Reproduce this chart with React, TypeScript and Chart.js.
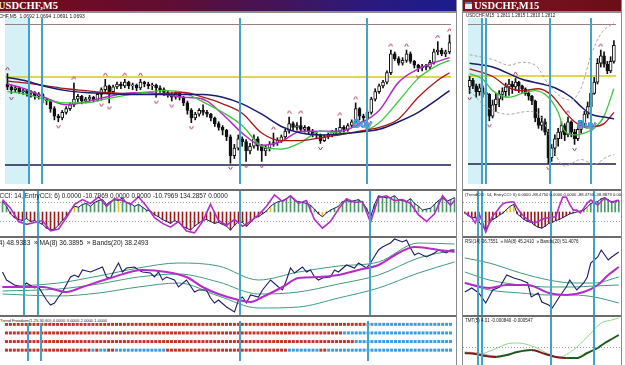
import React, { useEffect, useRef } from "react";
import { Chart, registerables } from "chart.js";

Chart.register(...registerables);

/* ======================= LEFT WINDOW : USDCHF,M5 ======================= */
// price values are in chart units (1 unit = one pixel step of the original price panel)
const leftOpen = [
  106, 103, 100, 102, 98, 99, 96, 97, 93, 95,
  90, 88, 80, 72, 70, 76, 80, 84, 90, 93,
  88, 90, 92, 89, 95, 100, 104, 98, 103, 106,
  104, 108, 104, 105, 102, 108, 106, 104, 105, 102,
  100, 97, 95, 92, 96, 92, 86, 78, 70, 74,
  78, 76, 74, 70, 64, 60, 57, 50, 30, 38,
  48, 45, 35, 40, 48, 40, 35, 38, 42, 44,
  46, 50, 56, 64, 60, 62, 58, 60, 56, 53,
  52, 46, 50, 52, 55, 56, 60, 58, 62, 66,
  80, 72, 70, 76, 90, 98, 104, 108, 118, 138,
  133, 128, 131, 138, 130, 126, 123, 125, 124, 129,
  140, 142, 138, 140,
];
const leftHigh = [
  117, 105, 104, 103, 101, 100, 99, 98, 97, 96,
  91, 89, 82, 74, 78, 82, 86, 107, 95, 94,
  92, 94, 93, 97, 102, 111, 105, 105, 108, 108,
  111, 109, 107, 106, 111, 109, 108, 107, 106, 104,
  102, 99, 97, 98, 97, 93, 88, 80, 76, 80,
  84, 78, 75, 71, 66, 62, 58, 52, 42, 52,
  50, 47, 43, 52, 50, 42, 41, 45, 54, 49,
  52, 58, 71, 66, 65, 71, 62, 61, 58, 55,
  53, 52, 54, 57, 59, 69, 62, 64, 68, 86,
  81, 74, 78, 92, 101, 106, 110, 120, 142, 140,
  135, 134, 142, 140, 131, 127, 127, 127, 131, 143,
  151, 144, 142, 158,
];
const leftLow = [
  100, 96, 98, 96, 95, 93, 92, 90, 90, 86,
  84, 76, 68, 66, 68, 74, 78, 82, 87, 85,
  86, 88, 87, 88, 89, 98, 86, 96, 101, 101,
  102, 101, 100, 99, 100, 103, 101, 100, 92, 97,
  94, 92, 88, 90, 89, 83, 74, 65, 68, 72,
  73, 71, 67, 61, 57, 52, 46, 22, 27, 36,
  40, 24, 32, 38, 36, 24, 30, 35, 40, 41,
  44, 48, 54, 57, 57, 56, 55, 53, 50, 48,
  43, 45, 48, 50, 52, 54, 55, 56, 60, 64,
  68, 66, 68, 74, 88, 96, 102, 106, 116, 131,
  126, 126, 129, 128, 123, 119, 120, 121, 122, 127,
  137, 136, 135, 138,
];
const leftClose = [
  103, 100, 102, 98, 99, 96, 97, 93, 95, 90,
  88, 80, 72, 70, 76, 80, 84, 90, 93, 88,
  90, 92, 89, 95, 100, 104, 98, 103, 106, 104,
  108, 104, 105, 102, 108, 106, 104, 105, 102, 100,
  97, 95, 92, 96, 92, 86, 78, 70, 74, 78,
  76, 74, 70, 64, 60, 57, 50, 30, 38, 48,
  45, 35, 40, 48, 40, 35, 38, 42, 44, 46,
  50, 56, 64, 60, 62, 58, 60, 56, 53, 52,
  46, 50, 52, 55, 56, 60, 58, 62, 66, 80,
  72, 70, 76, 90, 98, 104, 108, 118, 138, 133,
  128, 131, 138, 130, 126, 123, 125, 124, 129, 140,
  142, 138, 140, 150,
];
const leftFractalUp = [0, 17, 25, 30, 34, 50, 68, 72, 75, 85, 89, 98, 102, 110, 113];
const leftFractalDown = [1, 13, 24, 26, 38, 42, 47, 57, 61, 65, 80, 105];

const leftMaIdx = [0, 5, 10, 15, 20, 25, 30, 35, 40, 45, 50, 55, 60, 65, 70, 75, 80, 85, 90, 95, 100, 105, 110, 113];
const leftMaSlow = [113, 109, 103, 99, 97, 96, 95, 95, 95, 95, 95, 92, 85, 74, 61, 54, 52, 53, 55, 58, 66, 76, 90, 99];
const leftMaMid = [109, 107, 104, 101, 99, 97, 96, 95, 96, 97, 92, 85, 75, 54, 46, 46, 49, 52, 56, 60, 69, 92, 110, 118];
const leftMaFast = [98, 95, 89, 86, 86, 90, 94, 97, 99, 97, 87, 76, 62, 40, 37, 44, 56, 54, 55, 65, 88, 112, 126, 131];
const leftMaFastest = [106, 100, 91, 84, 87, 92, 96, 97, 95, 92, 90, 74, 54, 41, 45, 56, 56, 56, 64, 78, 108, 122, 130, 134];

const leftLevels = [113, 20, 170]; // yellow, navy, top line
const leftMarkers = [5.4, 8.9, 59.4, 91.9];
const leftBuyIdx = [90.6];
const leftBuyPrice = [63];

const leftTrendCci = [
  110, 60, -20, -60, -80, -90, -70, -100, -90, -110,
  -130, -170, -190, -180, -140, -90, -40, 20, 60, 50,
  80, 90, 60, 100, 120, 130, 80, 110, 130, 120,
  150, 100, 90, 60, 80, 50, 20, 10, -30, -50,
  -80, -100, -120, -90, -110, -150, -170, -190, -150, -120,
  -90, -80, -100, -120, -110, -130, -150, -190, -140, -100,
  -110, -150, -110, -60, -50, -20, 10, 60, 90, 110,
  120, 140, 170, 120, 110, 100, 90, 70, 30, -20,
  -50, -10, 20, 40, 60, 110, 120, 110, 120, 130,
  100, 40, -60, 80, 170, 160, 150, 150, 170, 130,
  120, 110, 140, 90, 60, 20, 30, 40, 80, 120,
  150, 110, 130, 150,
];
const leftEntryIdx = [
  0, 2, 4, 6, 8, 10, 12, 14, 16, 18, 20, 22, 24, 26, 28, 30, 32, 34, 36, 38,
  40, 42, 44, 46, 48, 50, 52, 54, 56, 58, 60, 62, 64, 66, 68, 70, 72, 74, 76, 78,
  80, 82, 84, 86, 88, 90, 92, 94, 96, 98, 100, 102, 104, 106, 108, 110, 112, 113,
];
const leftEntryCci = [
  130, 40, -100, -130, -110, -90, -200, -180, -60, 80, 130, 90, 160, 60, 140, 120, 80, 160, 60, -60,
  -120, -160, -100, -200, -220, -100, 80, -90, -140, -80, -150, -100, -30, 60, 180, 110, 170, 90, 120, -80,
  -170, -100, 30, 140, 100, 110, -110, 150, 170, 120, 130, 90, -30, -100, -20, 170, 70, 120,
];
const leftCciYellow = [18, 29, 67, 80, 84];

const leftRsiIdx = [
  0, 1, 3, 5, 6, 8, 9, 11, 12, 13, 14, 15, 17, 18, 19, 20, 22, 25, 26, 27, 28, 29, 30, 31, 33, 34, 35, 37, 38, 39,
  40, 41, 43, 44, 46, 48, 49, 51, 52, 53, 54, 56, 58, 59, 60, 61, 62, 64, 65, 67, 69, 70, 71, 72, 73, 75, 76, 77, 78, 79,
  80, 82, 83, 84, 86, 88, 89, 91, 92, 94, 95, 97, 98, 100, 101, 102, 103, 104, 106, 108, 109, 111, 112, 113,
];
const leftRsi = [
  55, 47, 42, 40, 44, 39, 40, 27, 22, 24, 30, 35, 50, 52, 50, 57, 55, 60, 50, 49, 57, 64, 55, 59, 60, 57, 55, 54, 50, 55,
  47, 50, 47, 40, 47, 35, 37, 37, 29, 24, 27, 20, 15, 27, 30, 24, 32, 30, 37, 47, 40, 37, 47, 59, 54, 60, 55, 57, 50, 47,
  49, 50, 57, 55, 62, 59, 64, 59, 64, 77, 80, 84, 88, 85, 87, 79, 72, 74, 70, 74, 77, 74, 77, 77,
];
const leftRsiMaIdx = [0, 10, 16, 20, 27, 35, 41, 46, 50, 54, 59, 62, 65, 70, 74, 79, 84, 89, 94, 99, 103, 106, 109, 113];
const leftRsiMa = [40, 40, 35, 40, 49, 57, 55, 50, 40, 33, 27, 25, 30, 40, 49, 50, 52, 57, 62, 74, 80, 79, 77, 75];
const leftBandIdx = [0, 14, 24, 34, 44, 54, 64, 74, 84, 94, 104, 113];
const leftBandUp = [40, 44, 51, 59, 64, 61, 47, 55, 61, 65, 84, 83];
const leftBandMid = [36, 38, 43, 50, 53, 45, 33, 35, 43, 52, 69, 77];
const leftBandLow = [33, 31, 34, 40, 44, 31, 19, 20, 29, 39, 54, 65];

// Freedom rows (4,3,2,1): bar indices where the state flips (starts red / down)
const freedomRowLevels = [4, 3, 2, 1];
const freedomRow4Flips = [92];
const freedomRow3Flips = [86];
const freedomRow2Flips = [89];
const freedomRow1Flips = [22, 23, 24, 26, 28, 41, 72, 80, 82];

/* ======================= RIGHT WINDOW : USDCHF,M15 ======================= */
const rightOpen = [
  103, 110, 104, 98, 102, 97, 95, 72, 84, 90,
  95, 98, 103, 106, 103, 108, 104, 101, 96, 93,
  88, 70, 62, 66, 55, 28, 38, 48, 55, 62,
  52, 66, 55, 48, 58, 64, 74, 82, 96, 108,
  128, 136, 127, 120, 130,
];
const rightHigh = [
  114, 112, 106, 106, 104, 101, 96, 89, 96, 99,
  102, 107, 111, 109, 112, 109, 105, 102, 99, 94,
  89, 80, 72, 69, 58, 42, 52, 59, 66, 64,
  71, 67, 58, 62, 67, 77, 87, 100, 113, 133,
  142, 140, 130, 135, 152,
];
const rightLow = [
  96, 101, 92, 94, 92, 89, 67, 70, 77, 82,
  89, 92, 94, 96, 99, 97, 97, 94, 89, 84,
  66, 59, 57, 52, 22, 24, 30, 40, 48, 46,
  50, 50, 42, 46, 54, 60, 70, 80, 95, 106,
  124, 124, 117, 118, 128,
];
const rightClose = [
  110, 104, 98, 102, 97, 95, 72, 84, 90, 95,
  98, 103, 106, 103, 108, 104, 101, 96, 93, 88,
  70, 62, 66, 55, 28, 38, 48, 55, 62, 52,
  66, 55, 48, 58, 64, 74, 82, 96, 108, 128,
  136, 127, 120, 130, 147,
];
const rightFractalUp = [14, 30, 40];
const rightFractalDown = [0, 6, 24, 32];

const rightSlowIdx = [0, 7, 16, 22, 26, 31, 34, 37, 41, 44];
const rightSlow = [128, 124, 111, 106, 102, 92, 82, 74, 71, 69];
const rightMidIdx = [0, 7, 12, 16, 21, 25, 29, 32, 35, 38, 41, 44];
const rightMid = [122, 114, 102, 99, 101, 94, 77, 66, 61, 61, 64, 76];
const rightFastIdx = [0, 4, 7, 12, 16, 20, 24, 27, 29, 32, 35, 38, 41, 44];
const rightFast = [117, 111, 99, 92, 96, 99, 92, 76, 56, 52, 54, 59, 72, 101];
const rightEnvUpIdx = [0, 7, 12, 16, 20, 24, 28, 31, 34, 37, 40, 44];
const rightEnvUp = [137, 132, 126, 129, 126, 106, 92, 89, 102, 136, 159, 171];
const rightEnvLowIdx = [0, 5, 12, 18, 21, 24, 26, 29, 34, 38, 42, 44];
const rightEnvLow = [99, 82, 74, 77, 74, 55, 33, 19, 26, 21, 29, 31];

const rightLevels = [114, 21, 170];
const rightMarkers = [3.8, 4.9, 24.6, 36.9];
const rightBuyIdx = [35.5];
const rightBuyPrice = [62];

const rightTrendCci = [
  -10, -40, -60, -60, -100, -150, -190, -120, -80, -60,
  -30, -10, 30, 60, 80, -20, -50, -80, -100, -110,
  -140, -160, -170, -150, -120, -110, -90, -80, -60, -40,
  -20, -10, 0, 10, 20, 50, 90, 100, 110, 140,
  150, 130, 100, 110, 120,
];
const rightEntryCci = [
  -10, -30, -60, -115, -10, -100, -210, -120, -40, 0,
  50, 90, 100, 105, 105, 40, -10, -50, -80, -105,
  -110, -100, -80, -65, -60, -55, -50, 60, 158, 155,
  80, 20, 20, -10, 40, 95, 126, 100, 74, 110,
  147, 120, 105, 115, 126,
];
const rightCciYellow = [12, 13, 14, 35];

const rightRsiIdx = [0, 2, 4, 6, 8, 10, 12, 14, 16, 18, 19, 21, 22, 24, 25, 27, 29, 30, 32, 34, 35, 36, 38, 39, 41, 42, 44];
const rightRsi = [35, 39, 34, 24, 37, 40, 52, 49, 47, 44, 30, 34, 25, 22, 19, 30, 40, 47, 37, 44, 50, 64, 70, 77, 67, 70, 75];
const rightRsiMaIdx = [0, 7, 12, 18, 24, 29, 34, 38, 41, 44];
const rightRsiMa = [44, 39, 42, 42, 34, 32, 35, 42, 52, 60];
const rightBandIdx = [0, 7, 16, 24, 31, 37, 44];
const rightBandUp = [69, 64, 54, 47, 44, 44, 50];
const rightBandMid = [55, 47, 42, 40, 40, 41, 42];
const rightBandLow = [44, 37, 34, 32, 32, 30, 24];

const tmtMainIdx = [0, 3, 6, 9, 12, 15, 19, 23, 26, 29, 32, 35, 38, 40, 42, 44];
const tmtMain = [-0.0006, -0.0007, -0.0009, -0.001, -0.0008, -0.0005, -0.0003, -0.0007, -0.001, -0.0011, -0.0011, -0.0006, -0.0001, 0.0004, 0.0008, 0.0012];
const tmtSignalIdx = [0, 4, 8, 12, 15, 20, 24, 27, 31, 35, 39, 42, 44];
const tmtSignal = [-0.0005, -0.0007, -0.0003, 0.0003, 0.0004, 0.0, -0.0007, -0.001, -0.0003, 0.001, 0.0024, 0.0027, 0.0029];
const tmtAuxIdx = [0, 4, 9, 13];
const tmtAux = [-0.0005, -0.0006, -0.0009, -0.0008];

/* ======================= texts ======================= */
const leftTitle = "USDCHF,M5";
const rightTitle = "USDCHF,M15";
const leftHeader = "USDCHF,M5  1.0692 1.0694 1.0691 1.0693";
const rightHeader = "USDCHF,M15  1.2811 1.2815 1.2810 1.2812";
const leftCciLabel = "(TrendCCI: 14, EntryCCI: 6) 0.0000 -10.7969 0.0000 0.0000 -10.7969 134.2857 0.0000";
const rightCciLabel = "(TrendCCI: 14, EntryCCI: 6) 0.0000 -88.4750 0.0000 0.0000 -88.4750 -38.8879 0.0000";
const leftRsiLabel = "RSI(14) 48.9383  \u00bb MA(8) 36.3895  \u00bb Bands(20) 38.2493";
const rightRsiLabel = "RSI(14) 36.7551  \u00bb MA(8) 45.2410  \u00bb Bands(20) 51.4076";
const freedomLabel = "Trend Freedom(1,25,30,60) 4.0000 3.0000 2.0000 1.0000";
const tmtLabel = "TMT(5) 4.01 -0.000840 -0.000547";

/* ======================= styles ======================= */
const SHADE = "#d4f1f8";
const MARKER = "#3fa5c8";
const NAVY = "#1c1c6c";
const RED = "#a81818";
const GREEN = "#3ec43e";
const MAGENTA = "#b42cc8";
const YELLOW = "#d8c810";
const TEAL = "#3f9a7c";
const FRACTAL = "#a8405e";
const CCI_R = "#9c1c1c";
const CCI_G = "#4a9a6a";
const CCI_Y = "#e6c41c";
const DOT_R = "#c0342c";
const DOT_B = "#3c9ce0";
const SMALL = '"Liberation Sans", Arial, sans-serif';

const LX = { min: -0.625, max: 113.375 };
const RX = { min: -0.5, max: 44.643 };

function seq(n: number) {
  return Array.from({ length: n }, (_, i) => i);
}
function pts(idx: number[], vals: number[]) {
  return idx.map((x, k) => ({ x, y: vals[k] }));
}

function chevron(up: boolean) {
  const c = document.createElement("canvas");
  c.width = 5;
  c.height = 15;
  const g = c.getContext("2d")!;
  g.strokeStyle = FRACTAL;
  g.lineWidth = 1;
  g.beginPath();
  if (up) {
    g.moveTo(0.5, 4);
    g.lineTo(2.5, 1);
    g.lineTo(4.5, 4);
  } else {
    g.moveTo(0.5, 11);
    g.lineTo(2.5, 14);
    g.lineTo(4.5, 11);
  }
  g.stroke();
  return c;
}

function baseOptions(xr: any, ymin: number, ymax: number) {
  return {
    responsive: false,
    animation: false,
    events: [],
    layout: { padding: 0 },
    plugins: { legend: { display: false }, tooltip: { enabled: false }, title: { display: false } },
    scales: {
      x: { type: "linear", min: xr.min, max: xr.max, display: false, offset: false },
      y: { type: "linear", min: ymin, max: ymax, display: false },
    },
  };
}

function line(idx: number[], vals: number[], color: string, width: number, smooth: boolean, extra: any = {}) {
  return {
    type: "line",
    data: pts(idx, vals),
    borderColor: color,
    borderWidth: width,
    pointRadius: 0,
    fill: false,
    tension: 0,
    cubicInterpolationMode: smooth ? "monotone" : "default",
    order: 0,
    ...extra,
  };
}

function candleSets(o: number[], h: number[], l: number[], c: number[]) {
  const idx = seq(o.length);
  return [
    {
      type: "bar",
      data: idx.map((i) => ({ x: i, y: [l[i], h[i]] })),
      backgroundColor: "#111",
      borderWidth: 0,
      barThickness: 1,
      grouped: false,
      order: 3,
    },
    {
      type: "bar",
      data: idx.map((i) => ({ x: i, y: [Math.min(o[i], c[i]), Math.max(o[i], c[i])] })),
      backgroundColor: idx.map((i) => (c[i] >= o[i] ? "#ffffff" : "#111111")),
      borderColor: "#111",
      borderWidth: 1,
      borderSkipped: false,
      barThickness: 3,
      minBarLength: 1,
      grouped: false,
      order: 2,
    },
  ];
}

function fractalSets(up: number[], down: number[], h: number[], l: number[]) {
  const upImg = chevron(true);
  const downImg = chevron(false);
  return [
    { type: "scatter", data: up.map((i) => ({ x: i, y: h[i] })), pointStyle: upImg, pointRadius: 3, showLine: false, order: 1 },
    { type: "scatter", data: down.map((i) => ({ x: i, y: l[i] })), pointStyle: downImg, pointRadius: 3, showLine: false, order: 1 },
  ];
}

type Lvl = { v: number; color: string; width: number; dash?: number[] };

function decor(d: { shadeTo?: number; levels?: Lvl[]; markers: number[]; buyIdx?: number[]; buyPrice?: number[] }) {
  return {
    id: "decor",
    beforeDatasetsDraw(chart: any) {
      const { ctx, chartArea: a } = chart;
      const xs = chart.scales.x;
      const ys = chart.scales.y;
      ctx.save();
      if (d.shadeTo !== undefined) {
        ctx.fillStyle = SHADE;
        ctx.fillRect(a.left, a.top, Math.round(xs.getPixelForValue(d.shadeTo)) - a.left, a.bottom - a.top);
      }
      (d.levels || []).forEach((lv) => {
        const py = Math.round(ys.getPixelForValue(lv.v)) + (lv.width % 2 === 1 ? 0.5 : 0);
        ctx.beginPath();
        ctx.setLineDash(lv.dash || []);
        ctx.strokeStyle = lv.color;
        ctx.lineWidth = lv.width;
        ctx.moveTo(a.left, py);
        ctx.lineTo(a.right, py);
        ctx.stroke();
      });
      ctx.restore();
    },
    afterDatasetsDraw(chart: any) {
      const { ctx, chartArea: a } = chart;
      const xs = chart.scales.x;
      const ys = chart.scales.y;
      ctx.save();
      (d.buyIdx || []).forEach((bi, k) => {
        const px = xs.getPixelForValue(bi);
        const py = ys.getPixelForValue((d.buyPrice || [])[k]);
        ctx.font = 'italic bold 10px "Liberation Sans", Arial, sans-serif';
        ctx.textAlign = "center";
        ctx.textBaseline = "middle";
        ctx.fillStyle = "#8c8c9c";
        ctx.fillText("Buy", px + 1, py + 1);
        ctx.fillStyle = "#3a92e6";
        ctx.fillText("Buy", px, py);
      });
      ctx.fillStyle = MARKER;
      d.markers.forEach((m) => {
        const px = Math.round(xs.getPixelForValue(m));
        ctx.fillRect(px - 1, a.top, 2, a.bottom - a.top);
      });
      ctx.restore();
    },
  };
}

/* ======================= panel configs ======================= */
function mainLeft() {
  return {
    type: "bar",
    data: {
      datasets: [
        line(leftMaIdx, leftMaSlow, NAVY, 1.5, true),
        line(leftMaIdx, leftMaMid, RED, 1.3, true),
        line(leftMaIdx, leftMaFast, GREEN, 1.3, true),
        line(leftMaIdx, leftMaFastest, MAGENTA, 1.5, true),
        ...fractalSets(leftFractalUp, leftFractalDown, leftHigh, leftLow),
        ...candleSets(leftOpen, leftHigh, leftLow, leftClose),
      ],
    },
    options: baseOptions(LX, 0, 176),
    plugins: [
      decor({
        shadeTo: leftMarkers[0],
        levels: [
          { v: leftLevels[0], color: YELLOW, width: 1.5 },
          { v: leftLevels[1], color: "#1e1e4e", width: 1.5 },
          { v: leftLevels[2], color: "#9a8080", width: 1 },
        ],
        markers: leftMarkers,
        buyIdx: leftBuyIdx,
        buyPrice: leftBuyPrice,
      }),
    ],
  };
}

function mainRight() {
  return {
    type: "bar",
    data: {
      datasets: [
        line(rightEnvUpIdx, rightEnvUp, "#a8a8a8", 1, true, { borderDash: [3, 2] }),
        line(rightEnvLowIdx, rightEnvLow, "#a8a8a8", 1, true, { borderDash: [3, 2] }),
        line(rightSlowIdx, rightSlow, NAVY, 1.5, true),
        line(rightMidIdx, rightMid, RED, 1.3, true),
        line(rightFastIdx, rightFast, GREEN, 1.3, true),
        ...fractalSets(rightFractalUp, rightFractalDown, rightHigh, rightLow),
        ...candleSets(rightOpen, rightHigh, rightLow, rightClose),
      ],
    },
    options: baseOptions(RX, 0, 176),
    plugins: [
      decor({
        shadeTo: rightMarkers[0],
        levels: [
          { v: rightLevels[0], color: YELLOW, width: 1.5 },
          { v: rightLevels[1], color: "#1e1e4e", width: 1.5 },
          { v: rightLevels[2], color: "#9a8080", width: 1 },
        ],
        markers: rightMarkers,
        buyIdx: rightBuyIdx,
        buyPrice: rightBuyPrice,
      }),
    ],
  };
}

function cciConfig(trend: number[], entryIdx: number[], entry: number[], yellow: number[], markers: number[], xr: any) {
  const idx = seq(trend.length);
  const colors = idx.map((i) => (yellow.includes(i) ? CCI_Y : trend[i] >= 0 ? CCI_G : CCI_R));
  return {
    type: "bar",
    data: {
      datasets: [
        line(entryIdx, entry, MAGENTA, 1.6, false, { order: 0 }),
        line(idx, trend, NAVY, 1, false, { order: 1 }),
        {
          type: "bar",
          data: idx.map((i) => ({ x: i, y: trend[i] })),
          backgroundColor: colors,
          borderWidth: 0,
          barThickness: 1,
          grouped: false,
          order: 2,
        },
      ],
    },
    options: baseOptions(xr, -253, 221),
    plugins: [
      decor({
        levels: [
          { v: 100, color: "#9c9c9c", width: 1, dash: [1, 2] },
          { v: -100, color: "#9c9c9c", width: 1, dash: [1, 2] },
        ],
        markers,
      }),
    ],
  };
}

function rsiConfig(
  rIdx: number[], r: number[], mIdx: number[], m: number[],
  bIdx: number[], bu: number[], bm: number[], bl: number[], markers: number[], xr: any
) {
  return {
    type: "line",
    data: {
      datasets: [
        line(rIdx, r, NAVY, 1.1, false, { order: 1 }),
        line(mIdx, m, MAGENTA, 2, true, { order: 0 }),
        line(bIdx, bu, TEAL, 1, true, { order: 2 }),
        line(bIdx, bm, TEAL, 1, true, { order: 2 }),
        line(bIdx, bl, TEAL, 1, true, { order: 2 }),
      ],
    },
    options: baseOptions(xr, 12, 89),
    plugins: [decor({ markers })],
  };
}

function freedomConfig() {
  const n = leftOpen.length;
  const rows = [freedomRow4Flips, freedomRow3Flips, freedomRow2Flips, freedomRow1Flips];
  const datasets = rows.map((flips, r) => {
    let state = 0;
    const colors: string[] = [];
    for (let i = 0; i < n; i++) {
      if (flips.includes(i)) state = 1 - state;
      colors.push(state ? DOT_B : DOT_R);
    }
    return {
      type: "scatter",
      data: seq(n).map((i) => ({ x: i, y: freedomRowLevels[r] })),
      pointStyle: "rect",
      pointRadius: 2.12,
      pointBorderWidth: 0,
      pointBackgroundColor: colors,
      showLine: false,
    };
  });
  return {
    type: "scatter",
    data: { datasets },
    options: baseOptions(LX, -0.26, 4.39),
    plugins: [decor({ markers: leftMarkers })],
  };
}

function tmtConfig() {
  return {
    type: "line",
    data: {
      datasets: [
        line(tmtAuxIdx, tmtAux, "#e09a9a", 1, true, { order: 2 }),
        line(tmtSignalIdx, tmtSignal, "#8ad88a", 1, true, { order: 1 }),
        line(tmtMainIdx, tmtMain, "#1e5a1e", 2, true, {
          order: 0,
          segment: {
            borderColor: (c: any) => (c.p1.parsed.y >= c.p0.parsed.y ? "#1e5a1e" : "#7a1a1a"),
          },
        }),
      ],
    },
    options: baseOptions(RX, -0.0018, 0.003),
    plugins: [
      decor({
        levels: [{ v: 0, color: "#9c9c9c", width: 1, dash: [1, 2] }],
        markers: rightMarkers,
      }),
    ],
  };
}

/* ======================= components ======================= */
function Panel({ left, top, width, height, make }: any) {
  const ref = useRef<HTMLCanvasElement | null>(null);
  useEffect(() => {
    const chart = new Chart(ref.current as HTMLCanvasElement, make() as any);
    return () => chart.destroy();
  }, []);
  return (
    <canvas
      ref={ref}
      width={width}
      height={height}
      style={{ position: "absolute", left, top, width, height, display: "block" }}
    />
  );
}

function Label({ left, top, text, size, bg }: any) {
  return (
    <div
      style={{
        position: "absolute",
        left,
        top,
        fontFamily: SMALL,
        fontSize: size,
        lineHeight: `${size + 1}px`,
        color: "#1a1a1a",
        whiteSpace: "pre",
        background: bg || "transparent",
        paddingRight: bg ? 2 : 0,
      }}
    >
      {text}
    </div>
  );
}

function Sep({ top, width }: any) {
  return <div style={{ position: "absolute", left: 0, top, width, height: 2, background: "#6c6c6c" }} />;
}

function Window({ left, width, title, gradient, icon, children }: any) {
  return (
    <div
      style={{
        position: "absolute",
        left,
        top: 0,
        width,
        height: 365,
        overflow: "hidden",
        background: "#fff",
      }}
    >
      <div
        style={{
          position: "absolute",
          left: 0,
          top: 0,
          width: "100%",
          height: 11,
          background: gradient,
          color: "#fff",
          fontFamily: '"Liberation Serif", "DejaVu Serif", serif',
          fontWeight: "bold",
          fontSize: 10.5,
          lineHeight: "11px",
          whiteSpace: "pre",
        }}
      >
        {icon ? (
          <div
            style={{
              position: "absolute",
              left: 2,
              top: 2,
              width: 7,
              height: 7,
              background: "#e8eef8",
              borderTop: "2px solid #5878b8",
              boxSizing: "border-box",
            }}
          />
        ) : null}
        <span style={{ position: "absolute", left: icon ? 11 : -2, top: 0 }}>{title}</span>
      </div>
      <div style={{ position: "absolute", left: 0, top: 11, width: "100%", height: 2, background: "#8c8c8c" }} />
      {children}
    </div>
  );
}

export default function App() {
  return (
    <div
      style={{
        position: "fixed",
        left: 0,
        top: 0,
        width: 625,
        height: 365,
        background: "#ffffff",
        overflow: "hidden",
      }}
    >
      {/* left window */}
      <Window left={0} width={456} title={leftTitle} gradient="linear-gradient(to right, #7a0a18 0%, #5e0e36 40%, #2c1a7c 80%, #1c1c8e 100%)">
        <Panel left={0} top={13} width={456} height={176} make={mainLeft} />
        <Label left={-12} top={13} text={leftHeader} size={5} />
        <Sep top={189} width={456} />
        <Panel left={0} top={191} width={456} height={45} make={() => cciConfig(leftTrendCci, leftEntryIdx, leftEntryCci, leftCciYellow, leftMarkers, LX)} />
        <Label left={-19} top={192} text={leftCciLabel} size={6.4} />
        <Sep top={236} width={456} />
        <Panel
          left={0}
          top={238}
          width={456}
          height={77}
          make={() => rsiConfig(leftRsiIdx, leftRsi, leftRsiMaIdx, leftRsiMa, leftBandIdx, leftBandUp, leftBandMid, leftBandLow, leftMarkers, LX)}
        />
        <Label left={-18} top={239} text={leftRsiLabel} size={6.6} />
        <Sep top={315} width={456} />
        <Panel left={0} top={317} width={456} height={48} make={freedomConfig} />
        <Label left={0} top={318} text={freedomLabel} size={4.2} bg="#ffffff" />
      </Window>
      <div style={{ position: "absolute", left: 456, top: 0, width: 1, height: 365, background: "#8c8c8c" }} />
      <div style={{ position: "absolute", left: 462, top: 0, width: 1, height: 365, background: "#8c8c8c" }} />

      {/* right window */}
      <Window left={463} width={158} title={rightTitle} icon gradient="linear-gradient(to right, #7e1420 0%, #6a0e18 100%)">
        <Panel left={0} top={13} width={158} height={176} make={mainRight} />
        <Label left={3} top={13} text={rightHeader} size={4.5} />
        <Sep top={189} width={158} />
        <Panel left={0} top={191} width={158} height={45} make={() => cciConfig(rightTrendCci, seq(rightEntryCci.length), rightEntryCci, rightCciYellow, rightMarkers, RX)} />
        <Label left={2} top={192} text={rightCciLabel} size={4.2} />
        <Sep top={236} width={158} />
        <Panel
          left={0}
          top={238}
          width={158}
          height={77}
          make={() => rsiConfig(rightRsiIdx, rightRsi, rightRsiMaIdx, rightRsiMa, rightBandIdx, rightBandUp, rightBandMid, rightBandLow, rightMarkers, RX)}
        />
        <Label left={2} top={239} text={rightRsiLabel} size={4.5} />
        <Sep top={315} width={158} />
        <Panel left={0} top={317} width={158} height={48} make={tmtConfig} />
        <Label left={2} top={318} text={tmtLabel} size={4.5} />
      </Window>
      <div style={{ position: "absolute", left: 621, top: 0, width: 1, height: 365, background: "#8c8c8c" }} />
    </div>
  );
}
